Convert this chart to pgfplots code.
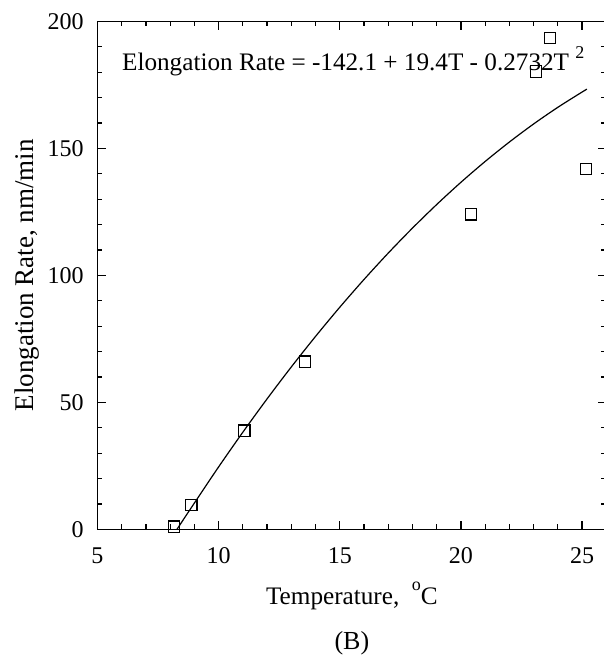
\documentclass[border=0pt]{standalone}
\usepackage{fontspec}
\setmainfont{Liberation Serif}
\usepackage{pgfplots}
\pgfplotsset{compat=1.18}

\pgfplotstableread{
T rate
8.16 1.0
8.87 9.6
11.06 38.8
13.56 66.0
20.41 124.0
23.10 180.2
23.68 193.5
25.16 141.8
}\measured

% fitted curve, values
\pgfplotstableread{
T fit
8.28 0.0
9 10.37
10 24.58
11 38.24
12 51.36
13 63.93
14 75.95
15 87.43
16 98.36
17 108.75
18 118.58
19 127.87
20 136.62
21 144.82
22 152.47
23 159.58
24 166.14
25 172.15
25.2 173.29
}\fitted

\begin{document}
\begin{tikzpicture}
\begin{axis}[
  at={(0,0)}, anchor=south west,
  scale only axis,
  width=254.4pt, height=254pt,
  xmin=5, xmax=26, ymin=0, ymax=200,
  xtick={5,10,...,25}, ytick={0,50,...,200},
  minor x tick num=4, minor y tick num=4,
  tick align=inside,
  major tick length=4.3pt, minor tick length=2.5pt,
  axis line style={line width=0.7pt},
  every tick/.style={black, line width=0.6pt},
  tick label style={font=\fontsize{12}{14}\selectfont},
  /pgf/number format/assume math mode=true,
  xticklabel style={yshift=-5.5pt},
  yticklabel style={xshift=-3.4pt},
  xlabel={Temperature,\ \ \raisebox{0.55em}{\fontsize{9}{10}\selectfont o}C},
  xlabel style={font=\fontsize{12.6}{15}\selectfont, at={(rel axis cs:0.5,0)}, anchor=base, yshift=-37.4pt},
  ylabel={Elongation Rate, nm/min},
  ylabel style={font=\fontsize{13.5}{15}\selectfont, at={(axis description cs:-0.1262,0.5)}, anchor=base},
  clip=false,
]
\addplot[black, line width=0.6pt, smooth] table[x=T, y=fit] {\fitted};
\addplot[only marks, mark=square, mark size=2.85pt, mark options={black, line width=0.6pt}] table[x=T, y=rate] {\measured};
\node[anchor=base west, inner sep=0pt, font=\fontsize{12.6}{15}\selectfont] at (axis cs:6,180.5)
  {Elongation Rate = -142.1 + 19.4T - 0.2732T \raisebox{6pt}{\fontsize{9}{10}\selectfont 2}};
\node[anchor=base, inner sep=0pt, font=\fontsize{13}{15}\selectfont] at (rel axis cs:0.5,0) [yshift=-60.3pt] {(B)};
\end{axis}
\pgfresetboundingbox
\path[use as bounding box] (-48.75pt,-62.85pt) rectangle (253.25pt,264.65pt);
\end{tikzpicture}
\end{document}
